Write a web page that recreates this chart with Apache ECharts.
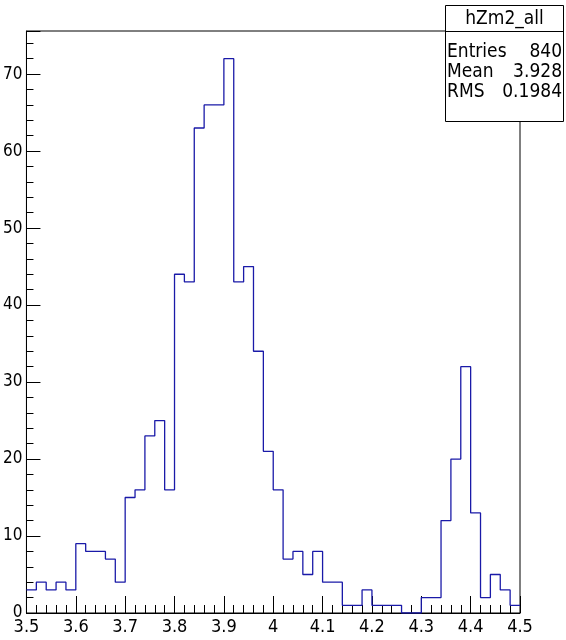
<!DOCTYPE html>
<html>
<head>
<meta charset="utf-8">
<script src="https://cdn.jsdelivr.net/npm/echarts@6/dist/echarts.min.js"></script>
<style>
html,body{margin:0;padding:0;background:#fff;}
#chart{width:566px;height:640px;}
</style>
</head>
<body>
<div id="chart"></div>
<script>
// Histogram hZm2_all : 50 bins from 3.5 to 4.5
const histName = "hZm2_all";
const xMin = 3.5;
const xMax = 4.5;
const binWidth = 0.02;
const binCounts = [
  3, 4, 3, 4, 3,
  9, 8, 8, 7, 4,
  15, 16, 23, 25, 16,
  44, 43, 63, 66, 66,
  72, 43, 45, 34, 21,
  16, 7, 8, 5, 8,
  4, 4, 1, 1, 3,
  1, 1, 1, 0, 0,
  2, 2, 12, 20, 32,
  13, 2, 5, 3, 1
];
const xTickLabels = ["3.5","3.6","3.7","3.8","3.9","4","4.1","4.2","4.3","4.4","4.5"];
const yTickLabels = ["0","10","20","30","40","50","60","70"];
const statLabels = ["Entries", "Mean", "RMS"];
const statValues = ["840", "3.928", "0.1984"];
const yMax = 75.6;

const FONT = "'Liberation Sans Narrow','DejaVu Sans Condensed','Liberation Sans',sans-serif";

// step data: one point per bin lower edge, plus final edge
const stepData = [];
for (let i = 0; i < binCounts.length; i++) {
  stepData.push([+(xMin + i * binWidth).toFixed(4), binCounts[i]]);
}
stepData.push([xMax, binCounts[binCounts.length - 1]]);

const chart = echarts.init(document.getElementById('chart'), null, {renderer: 'canvas'});

const boxL = 445.5, boxR = 563.5, boxT = 5.5, boxB = 121.5, boxSep = 31.5;
const statGraphics = [
  {type:'rect', shape:{x:boxL, y:boxT, width:boxR-boxL, height:boxB-boxT},
   style:{fill:'#fff', stroke:'#000', lineWidth:1}, z:100},
  {type:'line', shape:{x1:boxL, y1:boxSep, x2:boxR, y2:boxSep},
   style:{stroke:'#000', lineWidth:1}, z:101},
  {type:'text', x:(boxL+boxR)/2, y:19, z:102,
   style:{text:histName, font:'19px ' + FONT, fill:'#000', align:'center', verticalAlign:'middle'}}
];
const rowY = [52, 72, 92];
statLabels.forEach((lab, i) => {
  statGraphics.push({type:'text', x:447, y:rowY[i], z:102,
    style:{text:lab, font:'19px ' + FONT, fill:'#000', align:'left', verticalAlign:'middle'}});
  statGraphics.push({type:'text', x:562, y:rowY[i], z:102,
    style:{text:statValues[i], font:'19px ' + FONT, fill:'#000', align:'right', verticalAlign:'middle'}});
});

chart.setOption({
  backgroundColor:'#fff',
  animation:false,
  grid:{left:25, right:46, top:31, bottom:27, show:true, borderColor:'#000', borderWidth:1, backgroundColor:'transparent'},
  xAxis:{
    type:'value', min:xMin, max:xMax, interval:0.1,
    axisLine:{show:true, lineStyle:{color:'#000', width:1}},
    axisTick:{show:true, inside:true, length:17, lineStyle:{color:'#000'}},
    minorTick:{show:true, splitNumber:5, length:8, lineStyle:{color:'#000'}},
    splitLine:{show:false},
    axisLabel:{show:true, margin:5, color:'#000', fontFamily:FONT, fontSize:18,
      formatter:function(v){ const idx = Math.round((v - xMin) / 0.1); return xTickLabels[idx] !== undefined ? xTickLabels[idx] : ''; }}
  },
  yAxis:{
    type:'value', min:0, max:yMax, interval:10,
    axisLine:{show:true, lineStyle:{color:'#000', width:1}},
    axisTick:{show:true, inside:true, length:14, lineStyle:{color:'#000'}},
    minorTick:{show:true, splitNumber:5, length:7, lineStyle:{color:'#000'}},
    splitLine:{show:false},
    axisLabel:{show:true, margin:4, color:'#000', fontFamily:FONT, fontSize:17, showMaxLabel:false,
      formatter:function(v){ const idx = Math.round(v / 10); return (Math.abs(v - idx*10) < 1e-6 && yTickLabels[idx] !== undefined) ? yTickLabels[idx] : ''; }}
  },
  series:[{
    type:'line', step:'end', data:stepData, showSymbol:false, symbol:'none',
    lineStyle:{color:'#1a1aa8', width:1.3}, clip:true
  }],
  graphic:statGraphics
});
</script>
</body>
</html>
